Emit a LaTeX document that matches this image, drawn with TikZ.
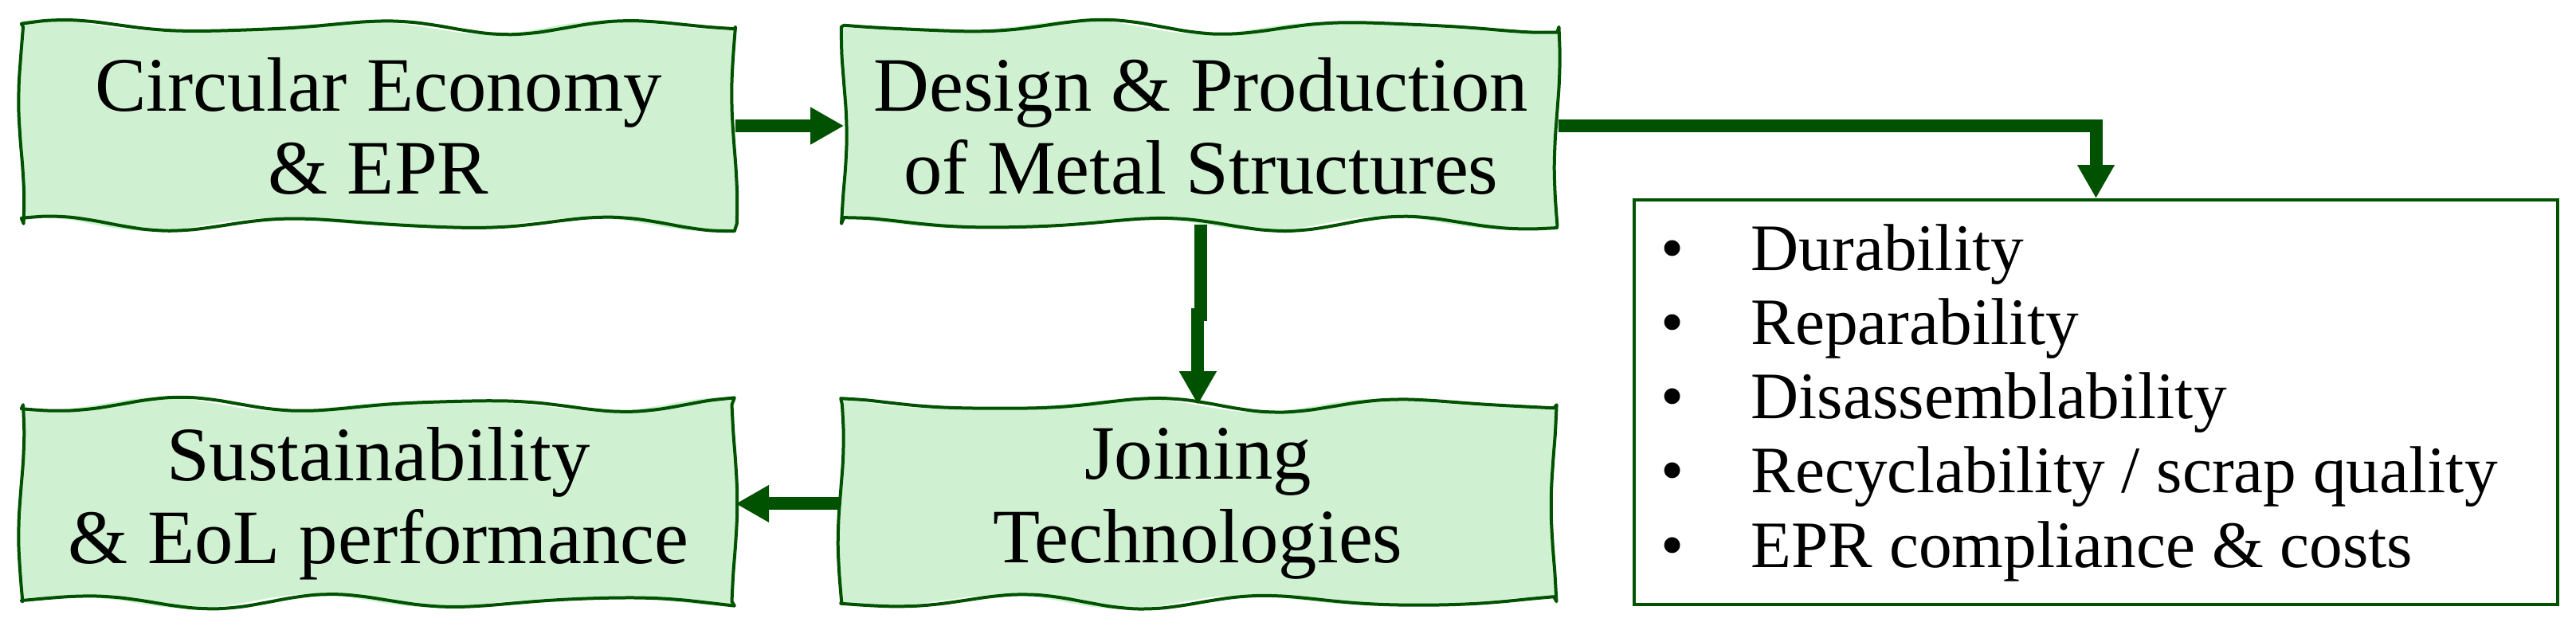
\documentclass[tikz,border=0pt]{standalone}
\usepackage{fontspec}
\setmainfont{Liberation Serif}
\usetikzlibrary{positioning, arrows.meta, backgrounds}
\definecolor{flowgreen}{RGB}{0,82,0}
\definecolor{boxgreen}{RGB}{207,241,210}
\tikzset{
	wavy/.style={minimum width=8.95cm, minimum height=2.47cm, align=center,
		font=\fontsize{27.5}{29.6}\selectfont},
	listbox/.style={draw=flowgreen, line width=0.04cm, minimum width=11.59cm, minimum height=5.08cm},
	item/.style={anchor=base west, inner sep=0pt, font=\fontsize{23.7}{26.5}\selectfont},
	flow/.style={draw=flowgreen, line width=0.16cm, -{Triangle[length=0.42cm, width=0.44cm]}}
}
% wavy paper outline round a node: #1 node, #2 phase, #3 fill or draw options
\newcommand{\paperedge}[3]{%
	\path[#3, shift={(#1.north west)}]
		plot[smooth, domain=0:8.95, samples=30] (\x, {0.07*sin(100*\x+#2)+0.025*sin(155*\x+2*#2)})
		-- plot[smooth, domain=0:-2.47, samples=8] ({8.95+0.035*sin(130*\x+#2)}, \x)
		-- plot[smooth, domain=8.95:0, samples=30] (\x, {-2.47+0.07*sin(105*\x+3*#2)+0.025*sin(150*\x+#2)})
		-- plot[smooth, domain=-2.47:0, samples=8] ({0.035*sin(140*\x+2*#2)}, \x)
		-- cycle;}
\newcommand{\paperbox}[2]{%
	\paperedge{#1}{#2+30}{fill=boxgreen}%
	\paperedge{#1}{#2}{draw=flowgreen, line width=0.04cm, line join=round}}

\begin{document}
\begin{tikzpicture}
	\useasboundingbox (0,0) rectangle (32.33,-7.90);
	\node[wavy] (ce) at (4.75,-1.58) {Circular Economy\\ \& EPR};
	\node[wavy, right=1.36cm of ce] (dp) {Design \& Production\\ of Metal Structures};
	\node[wavy, below=2.26cm of ce] (sus) {Sustainability\\ \& EoL performance};
	\node[wavy, right=1.32cm of sus] (jt) {Joining\\ Technologies};
	\begin{scope}[on background layer]
		\paperbox{ce}{20}
		\paperbox{dp}{140}
		\paperbox{sus}{250}
		\paperbox{jt}{75}
	\end{scope}
	\node[listbox, anchor=north west] (req) at (20.49,-2.49) {};
	\foreach \txt [count=\i] in {Durability, Reparability, Disassemblability, Recyclability / scrap quality, EPR compliance \& costs}
		\node[item] (it\i) at (20.98,{-3.39-0.933*(\i-1)}) {\makebox[0pt]{\textbullet}\hspace{0.99cm}\txt};
	% connectors
	\draw[flow] (ce.east) -- (dp.west);
	\draw[flow] (dp.east) -| (req.north);
	\draw[flow] (dp.south) -- ++(0,-1.13) -| (jt.north);
	\draw[flow] (jt.west) -- (sus.east);
\end{tikzpicture}
\end{document}
